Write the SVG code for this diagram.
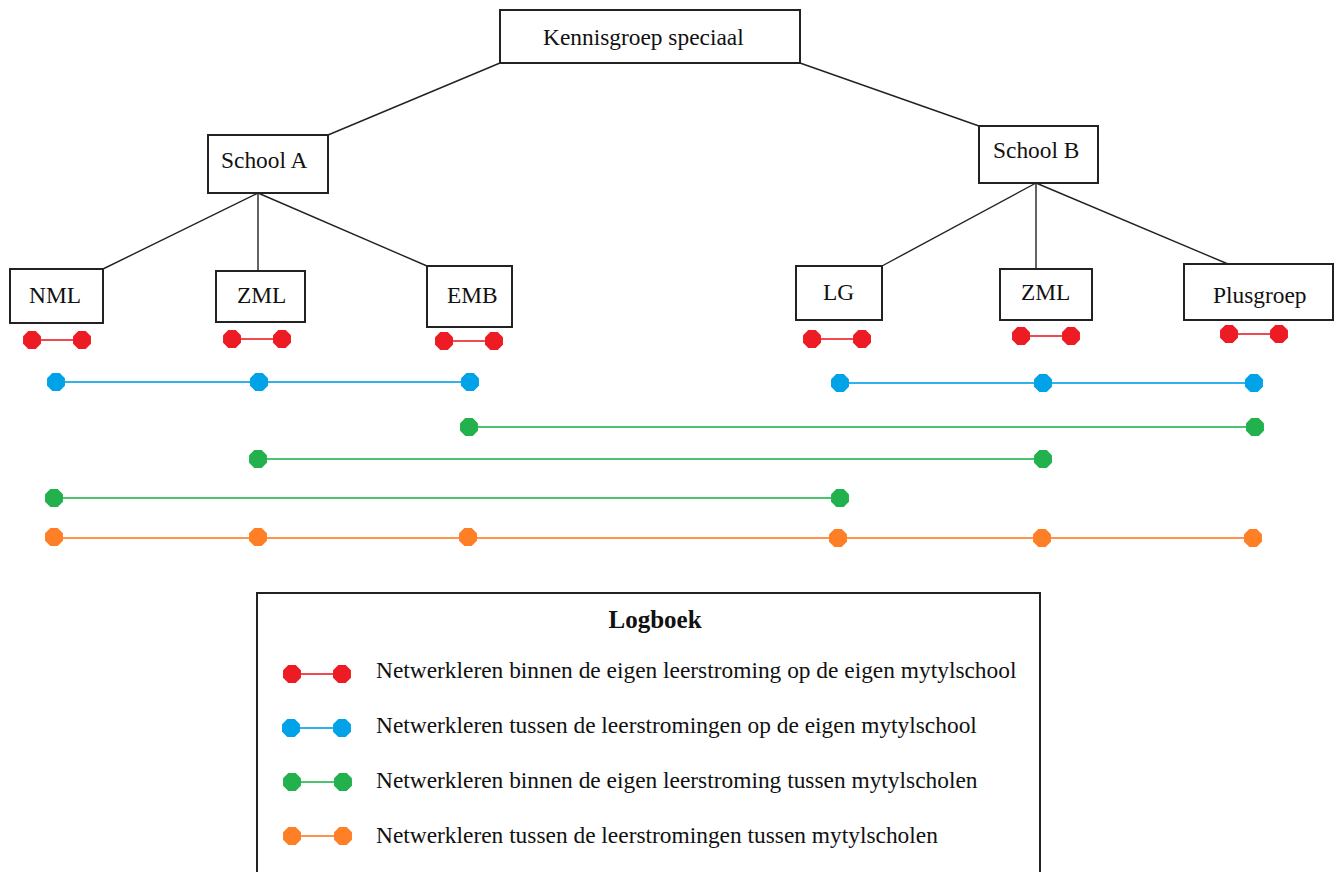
<svg xmlns="http://www.w3.org/2000/svg" xmlns:xlink="http://www.w3.org/1999/xlink" width="1341" height="872" viewBox="0 0 1341 872">
<style>
.box{fill:#fff;stroke:#222;stroke-width:2}
.lbl{font-family:"Liberation Serif","Times New Roman",serif;font-size:23.4px;fill:#111}
.ttl{font-family:"Liberation Serif","Times New Roman",serif;font-size:25px;font-weight:bold;fill:#111}
.edge{stroke:#222;stroke-width:1.4;fill:none}
.r{fill:#ed1c24}.rl{stroke:#f04a50;stroke-width:2}
.b{fill:#00a2e8}.bl{stroke:#2fb2ea;stroke-width:2}
.g{fill:#22b14c}.gl{stroke:#4cc36e;stroke-width:2}
.o{fill:#ff7f27}.ol{stroke:#ff934a;stroke-width:2}
</style>
<defs>
<polygon id="dot" points="8.96,3.71 3.71,8.96 -3.71,8.96 -8.96,3.71 -8.96,-3.71 -3.71,-8.96 3.71,-8.96 8.96,-3.71"/>
</defs>
<rect width="1341" height="872" fill="#fff"/>
<g id="connectors">
<line class="edge" x1="500" y1="63" x2="328" y2="135"/>
<line class="edge" x1="800" y1="63" x2="979" y2="126"/>
<line class="edge" x1="258" y1="193" x2="103" y2="269"/>
<line class="edge" x1="258" y1="193" x2="258" y2="271"/>
<line class="edge" x1="258" y1="193" x2="427" y2="266"/>
<line class="edge" x1="1036" y1="183" x2="882" y2="266"/>
<line class="edge" x1="1036" y1="183" x2="1036" y2="269"/>
<line class="edge" x1="1036" y1="183" x2="1228" y2="264"/>
</g>
<g id="kennisgroep"><rect class="box" x="500" y="10" width="300" height="53"/><text class="lbl" x="543" y="45">Kennisgroep speciaal</text></g>
<g id="schoolA"><rect class="box" x="208" y="135" width="120" height="58"/><text class="lbl" x="221" y="168">School A</text></g>
<g id="nml"><rect class="box" x="10" y="269" width="93" height="54"/><text class="lbl" x="29" y="303">NML</text></g>
<g id="zmlA"><rect class="box" x="216" y="271" width="89" height="51"/><text class="lbl" x="237" y="303">ZML</text></g>
<g id="emb"><rect class="box" x="427" y="266" width="85" height="61"/><text class="lbl" x="447" y="303">EMB</text></g>
<g id="schoolB"><rect class="box" x="979" y="126" width="119" height="57"/><text class="lbl" x="993" y="158">School B</text></g>
<g id="lg"><rect class="box" x="796" y="266" width="86" height="54"/><text class="lbl" x="823" y="300">LG</text></g>
<g id="zmlB"><rect class="box" x="1000" y="269" width="92" height="51"/><text class="lbl" x="1021" y="300">ZML</text></g>
<g id="plusgroep"><rect class="box" x="1184" y="264" width="149" height="56"/><text class="lbl" x="1213" y="303">Plusgroep</text></g>
<g id="red-links">
<line class="rl" x1="32" y1="340" x2="82" y2="340"/><use href="#dot" class="r" x="32" y="340"/><use href="#dot" class="r" x="82" y="340"/>
<line class="rl" x1="232" y1="339" x2="282" y2="339"/><use href="#dot" class="r" x="232" y="339"/><use href="#dot" class="r" x="282" y="339"/>
<line class="rl" x1="444" y1="341" x2="494" y2="341"/><use href="#dot" class="r" x="444" y="341"/><use href="#dot" class="r" x="494" y="341"/>
<line class="rl" x1="812" y1="339" x2="862" y2="339"/><use href="#dot" class="r" x="812" y="339"/><use href="#dot" class="r" x="862" y="339"/>
<line class="rl" x1="1021" y1="336" x2="1071" y2="336"/><use href="#dot" class="r" x="1021" y="336"/><use href="#dot" class="r" x="1071" y="336"/>
<line class="rl" x1="1229" y1="334" x2="1279" y2="334"/><use href="#dot" class="r" x="1229" y="334"/><use href="#dot" class="r" x="1279" y="334"/>
</g>
<g id="blue-links">
<line class="bl" x1="56" y1="382" x2="470" y2="382"/><use href="#dot" class="b" x="56" y="382"/><use href="#dot" class="b" x="259" y="382"/><use href="#dot" class="b" x="470" y="382"/>
<line class="bl" x1="840" y1="383" x2="1254" y2="383"/><use href="#dot" class="b" x="840" y="383"/><use href="#dot" class="b" x="1043" y="383"/><use href="#dot" class="b" x="1254" y="383"/>
</g>
<g id="green-links">
<line class="gl" x1="469" y1="427" x2="1255" y2="427"/><use href="#dot" class="g" x="469" y="427"/><use href="#dot" class="g" x="1255" y="427"/>
<line class="gl" x1="258" y1="459" x2="1043" y2="459"/><use href="#dot" class="g" x="258" y="459"/><use href="#dot" class="g" x="1043" y="459"/>
<line class="gl" x1="54" y1="498" x2="840" y2="498"/><use href="#dot" class="g" x="54" y="498"/><use href="#dot" class="g" x="840" y="498"/>
</g>
<g id="orange-links">
<line class="ol" x1="54" y1="538" x2="1253" y2="538"/>
<use href="#dot" class="o" x="54" y="537"/><use href="#dot" class="o" x="258" y="537"/><use href="#dot" class="o" x="468" y="537"/>
<use href="#dot" class="o" x="838" y="538"/><use href="#dot" class="o" x="1042" y="538"/><use href="#dot" class="o" x="1253" y="538"/>
</g>
<g id="legend">
<rect class="box" x="257" y="593" width="783" height="300"/>
<text class="ttl" x="655" y="628" text-anchor="middle">Logboek</text>
<line class="rl" x1="292" y1="674" x2="342" y2="674"/><use href="#dot" class="r" x="292" y="674"/><use href="#dot" class="r" x="342" y="674"/>
<text class="lbl" x="376" y="678">Netwerkleren binnen de eigen leerstroming op de eigen mytylschool</text>
<line class="bl" x1="291" y1="728" x2="342" y2="728"/><use href="#dot" class="b" x="291" y="728"/><use href="#dot" class="b" x="342" y="728"/>
<text class="lbl" x="376" y="733">Netwerkleren tussen de leerstromingen op de eigen mytylschool</text>
<line class="gl" x1="292" y1="782" x2="343" y2="782"/><use href="#dot" class="g" x="292" y="782"/><use href="#dot" class="g" x="343" y="782"/>
<text class="lbl" x="376" y="788">Netwerkleren binnen de eigen leerstroming tussen mytylscholen</text>
<line class="ol" x1="292" y1="836" x2="343" y2="836"/><use href="#dot" class="o" x="292" y="836"/><use href="#dot" class="o" x="343" y="836"/>
<text class="lbl" x="376" y="843">Netwerkleren tussen de leerstromingen tussen mytylscholen</text>
</g>
</svg>
